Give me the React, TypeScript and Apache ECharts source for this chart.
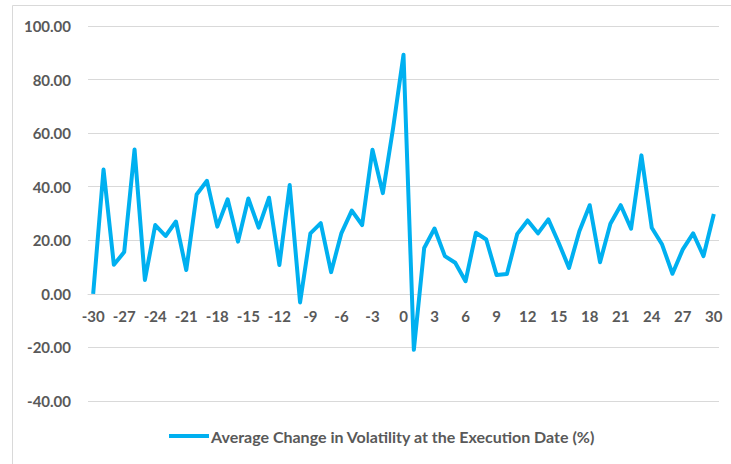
import React, { useEffect, useRef } from "react";
import * as echarts from "echarts";

const categories: string[] = [];
for (let d = -30; d <= 30; d++) categories.push(String(d));

const seriesName = "Average Change in Volatility at the Execution Date (%)";
const volatilityChange = [
  0.0, 46.4, 10.9, 15.6, 53.9, 5.2, 25.7, 21.6, 27.0, 8.9,
  37.1, 42.2, 25.1, 35.3, 19.5, 35.6, 24.7, 35.9, 10.8, 40.6,
  -3.2, 22.6, 26.4, 8.1, 22.7, 31.1, 25.7, 53.8, 37.6, 62.0,
  89.3, -20.9, 17.1, 24.4, 14.1, 11.6, 4.7, 22.8, 20.3, 7.0,
  7.4, 22.4, 27.4, 22.6, 27.8, 19.1, 9.7, 23.4, 33.1, 11.8,
  26.2, 33.1, 24.3, 51.7, 24.7, 18.4, 7.5, 16.6, 22.6, 14.1,
  29.8,
];

const yMin = -40;
const yMax = 100;
const yStep = 20;

export default function App() {
  const ref = useRef<HTMLDivElement>(null);
  useEffect(() => {
    document.body.style.margin = "0";
    if (!ref.current) return;
    const chart = echarts.init(ref.current, undefined, { renderer: "svg" });
    const font = "Lato, 'Open Sans', sans-serif";
    chart.setOption({
      animation: false,
      backgroundColor: "#ffffff",
      graphic: [
        { type: "line", shape: { x1: 12.5, y1: 5.5, x2: 731, y2: 5.5 }, style: { stroke: "#D9D9D9", lineWidth: 1 } },
        { type: "line", shape: { x1: 12.5, y1: 5.5, x2: 12.5, y2: 464 }, style: { stroke: "#D9D9D9", lineWidth: 1 } },
      ],
      grid: { left: 88, right: 12, top: 26, bottom: 63, containLabel: false },
      legend: {
        bottom: 20,
        left: 169,
        padding: 0,
        data: [{ name: seriesName, icon: "rect" }],
        itemWidth: 40,
        itemHeight: 4,
        itemGap: 10,
        textStyle: { color: "#595959", fontSize: 16, fontWeight: "bold", fontFamily: font, padding: [0, 0, 0, -3] },
      },
      xAxis: {
        type: "category",
        data: categories,
        boundaryGap: true,
        offset: -107,
        axisLine: { show: true, onZero: false, lineStyle: { color: "#D9D9D9", width: 1 } },
        axisTick: { show: false },
        axisLabel: {
          interval: 2,
          margin: 14,
          color: "#595959",
          fontSize: 15,
          fontWeight: "bold",
          fontFamily: font,
        },
        splitLine: { show: false },
      },
      yAxis: {
        type: "value",
        min: yMin,
        max: yMax,
        interval: yStep,
        axisLine: { show: false },
        axisTick: { show: false },
        axisLabel: {
          margin: 17,
          color: "#595959",
          fontSize: 15,
          fontWeight: "bold",
          fontFamily: font,
          formatter: (v: number) => v.toFixed(2),
        },
        splitLine: { show: true, lineStyle: { color: "#D9D9D9", width: 1 } },
      },
      series: [
        {
          name: seriesName,
          type: "line",
          data: volatilityChange,
          showSymbol: false,
          symbol: "none",
          lineStyle: { color: "#00B0F0", width: 4, join: "round" },
          itemStyle: { color: "#00B0F0" },
        },
      ],
    });
    return () => chart.dispose();
  }, []);
  return <div ref={ref} style={{ width: 731, height: 464 }} />;
}
